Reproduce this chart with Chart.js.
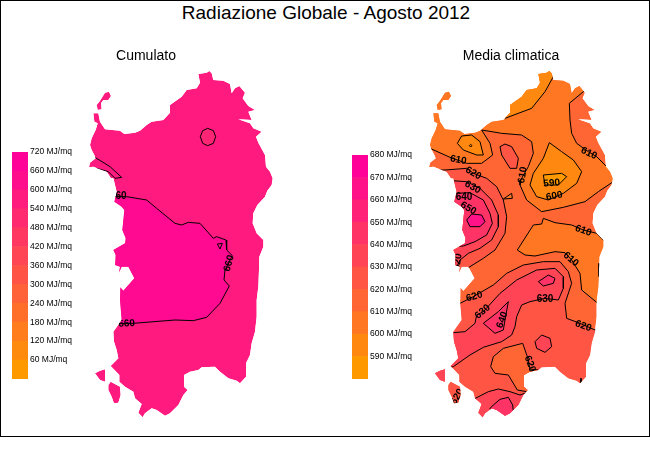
<!DOCTYPE html>
<html>
<head>
<meta charset="utf-8">
<script src="https://cdn.jsdelivr.net/npm/chart.js@4"></script>
<style>
html,body{margin:0;padding:0;background:#fff;overflow:hidden;width:650px;height:450px}
#frame{position:absolute;left:0;top:0;width:650px;height:437px;box-sizing:border-box;border:1px solid #000}
#title{position:absolute;left:0;top:1px;width:652px;text-align:center;font:19px "Liberation Sans",Arial,sans-serif;line-height:24px;color:#000}
canvas{position:absolute}
</style>
</head>
<body>
<div id="frame"></div>
<div id="title">Radiazione Globale - Agosto 2012</div>
<canvas id="mapA" width="292" height="392" style="left:0;top:48px"></canvas>
<canvas id="mapB" width="278" height="392" style="left:372px;top:48px"></canvas>
<canvas id="legA" width="110" height="244" style="left:12px;top:142px"></canvas>
<canvas id="legB" width="110" height="241" style="left:352px;top:145px"></canvas>
<script>
// ---- legend classes ----
const cumulatoEdges=[0,60,120,180,240,300,360,420,480,540,600,660,720];
const cumulatoColors=['#FF9900','#FF8B0E','#FF7D1C','#FF6F2A','#FF6138','#FF5346','#FF4654','#FF3862','#FF2A70','#FF1C7E','#FF0E8B','#FF0099'];
const climaEdges=[580,590,600,610,620,630,640,650,660,670,680];
const climaColors=['#FF9900','#FF8811','#FF7722','#FF6633','#FF5544','#FF4455','#FF3366','#FF2277','#FF1188','#FF0099'];
const [c0,c1,c2,c3,c4,c5,c6,c7,c8]=climaColors;

// ---- coastlines, map grid units (north at the top) ----
const sardegna=[[595,12],[620,8],[628,3],[635,10],[640,30],[670,32],[690,42],[695,70],[705,55],[718,48],[735,68],[728,85],[745,108],[765,120],[745,125],[755,150],[715,148],[750,160],[760,175],[785,185],[768,200],[775,218],[795,255],[798,290],[810,305],[818,325],[815,345],[802,362],[795,380],[772,405],[760,430],[758,460],[770,490],[790,510],[790,530],[778,560],[777,600],[775,650],[770,690],[770,740],[765,785],[755,820],[750,855],[738,880],[738,920],[720,940],[710,932],[685,925],[660,905],[645,890],[605,892],[595,900],[570,905],[552,915],[552,950],[563,960],[550,975],[535,1005],[510,1030],[495,1037],[470,1020],[455,1015],[435,1030],[428,1042],[415,1028],[425,1002],[405,985],[400,965],[375,950],[358,935],[358,915],[332,888],[355,865],[350,840],[342,815],[340,785],[365,750],[360,690],[361,652],[370,662],[385,645],[403,625],[385,590],[365,590],[357,608],[360,590],[345,585],[347,555],[340,540],[375,520],[377,505],[367,480],[373,420],[365,410],[343,395],[350,365],[340,325],[333,325],[320,305],[305,300],[280,290],[267,292],[270,278],[287,265],[283,255],[275,240],[270,225],[275,205],[287,180],[293,160],[283,155],[280,130],[295,130],[300,155],[315,178],[360,182],[373,192],[405,188],[420,182],[440,165],[455,155],[490,150],[510,128],[510,105],[545,80],[560,60],[590,55],[600,38]];
const asinara=[[315,68],[327,65],[333,78],[325,90],[310,90],[303,100],[305,118],[293,120],[290,105],[300,92]];
const santAntioco=[[325,945],[332,935],[360,950],[362,975],[355,998],[342,1000],[335,980],[325,960]];
const sanPietro=[[285,910],[300,902],[315,898],[315,935],[300,930]];
const coast=[sardegna,asinara,santAntioco,sanPietro];
const climaShift=45;

// ---- Cumulato contours ----
const cumA660=[[380,380],[440,390],[470,415],[525,460],[545,465],[565,457],[600,460],[640,505],[650,500],[678,510],[680,540],[697,557],[690,570],[675,600],[672,630],[688,648],[660,700],[620,742],[580,752],[525,750],[400,760],[300,762],[300,378],[380,380]];
const cumA660nw=[[285,262],[330,290],[365,322],[345,325],[325,305],[290,295]];
const cumA660tri=[[652,522],[667,520],[660,537],[652,522]];
const cumA600=[[601,200],[608,182],[623,175],[640,182],[647,200],[640,220],[623,227],[608,220],[601,200]];
const labelsA=[['60',363,378,0],['660',380,761,-3],['660',687,580,-75]];

// ---- Media climatica contours ----
const n610=[[315,235],[375,262],[425,280],[470,280],[503,255],[495,220],[470,180],[530,190],[590,195],[620,215],[625,250],[610,290],[587,330],[585,345],[605,390],[650,425],[715,412],[780,395],[820,365],[865,335],[890,330],[890,300],[850,295],[815,260],[790,245],[755,220],[740,190],[735,150],[733,100],[775,65],[800,40],[760,-20],[280,-20],[280,235],[315,235]];
const tip600=[[540,145],[585,128],[620,115],[660,65],[685,20],[680,-10],[560,-10],[500,100]];
const nwBlob=[[397,220],[410,198],[440,195],[465,215],[475,255],[455,255],[415,240],[397,220]];
const nwDot=[[433,227],[437,223],[441,227],[437,231],[433,227]];
const peak600=[[673,218],[655,265],[625,310],[615,345],[635,380],[670,390],[715,370],[755,340],[770,305],[745,270],[710,245],[673,218]];
const peak590=[[655,315],[710,310],[725,320],[700,345],[660,345],[655,315]];
const oval620=[[525,230],[540,222],[560,230],[580,265],[575,295],[555,295],[530,255],[525,230]];
const east610=[[655,445],[650,462],[625,465],[577,540],[600,555],[630,558],[690,545],[720,548],[740,570],[765,610],[770,660],[815,697],[900,700],[900,500],[835,510],[815,490],[775,480],[740,465],[690,458],[655,445]];
const west620=[[360,300],[425,295],[445,310],[485,325],[515,350],[535,390],[545,440],[540,490],[510,540],[475,565],[435,590],[405,612],[370,620],[300,620],[300,300],[360,300]];
const west630=[[380,332],[425,335],[465,355],[500,390],[520,435],[520,470],[500,510],[465,535],[430,550],[405,570],[395,592],[370,600],[300,600],[300,332],[380,332]];
const west640=[[390,370],[435,368],[475,390],[495,430],[502,460],[485,495],[450,515],[415,528],[380,530],[340,530],[340,370],[390,370]];
const west650=[[425,450],[440,432],[470,435],[480,455],[465,470],[435,470],[425,450]];
const south620=[[405,700],[445,680],[505,645],[545,610],[595,585],[655,575],[705,575],[730,605],[740,640],[720,700],[725,745],[765,760],[810,780],[900,780],[900,1100],[300,1100],[300,705],[405,700]];
const south630=[[385,788],[420,785],[450,760],[455,735],[475,725],[525,670],[575,630],[635,600],[690,595],[715,620],[715,655],[700,690],[660,685],[615,695],[590,705],[575,740],[570,770],[560,795],[530,815],[475,832],[435,855],[385,890],[365,895],[365,940],[300,940],[300,788],[385,788]];
const oval640=[[640,635],[670,615],[690,625],[685,640],[655,648],[640,635]];
const spear640=[[475,760],[520,725],[550,695],[540,750],[535,780],[510,790],[475,760]];
const oval630=[[630,815],[650,795],[675,805],[680,830],[660,847],[635,835],[630,815]];
const gulf610=[[593,820],[535,835],[505,860],[497,890],[510,910],[550,915],[577,960],[605,965],[640,950],[640,900],[615,897],[607,860],[593,820]];
const tip630=[[445,988],[490,965],[520,957],[555,965],[585,975],[607,967],[650,1000],[600,1100],[400,1100],[420,1000],[445,988]];
const tip640=[[505,1005],[525,988],[550,982],[563,1005],[565,1025],[590,1060],[510,1060],[495,1015],[505,1005]];
const tri610=[[535,387],[560,370],[562,385],[535,387]];
const tickNE=[[822,580],[822,620]];
const tickSE=[[768,925],[768,945]];
const labelsB=[['610',400,270,10],['620',445,310,30],['630',443,352,30],['640',417,382,0],['650',430,415,30],['610',593,315,-80],['590',680,340,-5],['600',688,378,-10],['610',792,250,25],['610',775,482,20],['610',738,568,40],['620',448,680,-15],['630',473,725,-40],['640',532,750,-70],['630',660,687,0],['620',775,768,20],['620',615,882,70],['620',398,575,-80],['620',397,980,-60]];

Chart.defaults.animation=false;
Chart.defaults.font.family='"Liberation Sans",Arial,sans-serif';

function poly(pts,fillColor,line){
  return {data:pts.map(([x,y])=>({x,y})),showLine:true,tension:0,pointRadius:0,
    fill:fillColor?'shape':false,backgroundColor:fillColor||'transparent',
    borderColor:line===false?'transparent':'#000',borderWidth:line===false?0:1,spanGaps:false};
}
const clipPlugin=shift=>({id:'coastClip',
  beforeDatasetsDraw(ch){
    const {ctx,scales:{x,y}}=ch;ctx.save();ctx.beginPath();
    coast.forEach(c=>{c.forEach(([a,b],i)=>{const px=x.getPixelForValue(a+shift),py=y.getPixelForValue(b);i?ctx.lineTo(px,py):ctx.moveTo(px,py);});ctx.closePath();});
    ctx.clip();
  },
  afterDatasetsDraw(ch,args,opts){
    const {ctx,scales:{x,y}}=ch;
    (opts.labels||[]).forEach(([t,a,b,r])=>{ctx.save();ctx.translate(x.getPixelForValue(a),y.getPixelForValue(b));ctx.rotate(r*Math.PI/180);
      ctx.font='bold 10px "Liberation Sans",Arial,sans-serif';ctx.fillStyle='#000';ctx.textAlign='center';ctx.textBaseline='middle';ctx.fillText(t,0,0);ctx.restore();});
    ctx.restore();
  }
});
function map(id,title,layers,labels,shift,xmin,xmax){
  new Chart(document.getElementById(id),{type:'scatter',
    data:{datasets:layers.slice().reverse()},
    options:{responsive:false,layout:{padding:0},
      scales:{x:{type:'linear',min:xmin,max:xmax,display:false},y:{type:'linear',min:0,max:1110,reverse:true,display:false}},
      plugins:{legend:{display:false},tooltip:{enabled:false},
        title:{display:true,text:title,color:'#000',font:{size:14,weight:'normal'},padding:{top:0,bottom:5.2}},
        coastClip:{labels}}},
    plugins:[clipPlugin(shift)]});
}
const shifted=p=>p.map(([x,y])=>[x+climaShift,y]);
map('mapA','Cumulato',[
  ...coast.map(c=>poly(c,'#FF1A80',false)),
  poly(cumA660,'#FF0A90'),poly(cumA660nw,null),poly(cumA660tri,null),poly(cumA600,'#FF2575')
],labelsA,0,0,876);
map('mapB','Media climatica',[
  ...coast.map(c=>poly(shifted(c),c3,false)),
  poly(n610,c2),poly(tip600,c1),poly(nwBlob,c1),poly(nwDot,null),poly(peak600,c1),poly(peak590,c0),poly(oval620,c4),
  poly(east610,c2),poly(tri610,c2),
  poly(west620,c4),poly(west630,c5),poly(west640,c6),poly(west650,c8),
  poly(south620,c4),poly(south630,c5),poly(oval640,c6),poly(spear640,c6),poly(oval630,c5),poly(gulf610,c3),poly(tip630,c5),poly(tip640,c6),
  poly(tickNE,null),poly(tickSE,null)
],labelsB,climaShift,141,975);

function legend(id,edges,colors,font){
  new Chart(document.getElementById(id),{type:'bar',
    data:{labels:[''],datasets:colors.map((col,i)=>({data:[[edges[i],edges[i+1]]],backgroundColor:col,borderWidth:0,borderSkipped:false,grouped:false,barPercentage:1,categoryPercentage:1}))},
    options:{responsive:false,layout:{padding:{top:10,bottom:0}},
      plugins:{legend:{display:false},tooltip:{enabled:false},title:{display:false}},
      scales:{x:{display:false},
        y:{position:'right',min:edges[0],max:edges[edges.length-1],afterFit:s=>{s.width=94;},
          afterBuildTicks:s=>{s.ticks=edges.slice(1).map(value=>({value}));},
          grid:{display:false,drawTicks:false},border:{display:false},
          ticks:{autoSkip:false,color:'#000',padding:2,font,callback:v=>v+' MJ/mq'}}}}});
}
legend('legA',cumulatoEdges,cumulatoColors,{size:8.5});
legend('legB',climaEdges,climaColors,{size:8.5});
</script>
</body>
</html>
